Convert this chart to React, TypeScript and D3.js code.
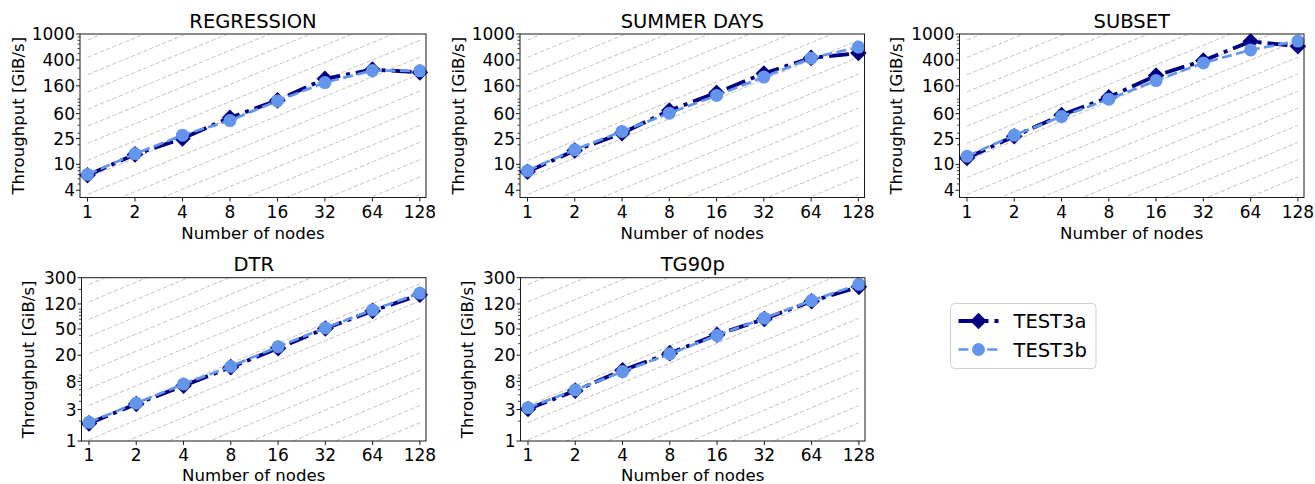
import React from 'react';
import * as d3 from 'd3';

// node counts on the x axis (log2)
const nodes = [1, 2, 4, 8, 16, 32, 64, 128];

const panelTitles = ['REGRESSION', 'SUMMER DAYS', 'SUBSET', 'DTR', 'TG90p'];
const seriesNames = ['TEST3a', 'TEST3b'];

// throughput in GiB/s
const regression3a = [6.8, 14.2, 25, 52, 96, 205, 285, 258];
const regression3b = [7.0, 14.5, 28, 47, 94, 180, 275, 272];
const summerDays3a = [7.7, 16.3, 30, 67, 125, 248, 430, 510];
const summerDays3b = [8.0, 16.8, 32, 61, 114, 218, 425, 630];
const subset3a = [12.5, 27, 57, 107, 230, 390, 770, 650];
const subset3b = [13.3, 28, 54, 100, 193, 360, 570, 780];
const dtr3a = [1.85, 3.65, 6.9, 13.2, 25.5, 51, 94, 165];
const dtr3b = [1.92, 3.75, 7.3, 13.5, 27, 52, 97, 175];
const tg90p3a = [3.05, 5.8, 11.8, 21.5, 41, 71, 132, 218];
const tg90p3b = [3.2, 5.95, 11.3, 21, 40, 73, 135, 238];

// y tick labels
const topTicks = [4, 10, 25, 60, 160, 400, 1000];
const bottomTicks = [1, 3, 8, 20, 50, 120, 300];

// constants of the grey "ideal scaling" lines y = c * nodes
const refLineFactors = [0.008, 0.0148, 0.027, 0.05, 0.092, 0.17, 0.31, 0.57, 1.04, 1.9,
  3.45, 6.25, 11.5, 21, 38.5, 70, 129, 237, 437, 808];

const NAVY = '#000080';
const LIGHT = '#6495ED';
const FONT = 'DejaVu Sans, sans-serif';

type PanelDef = {
  title: string;
  a: number[];
  b: number[];
  ticks: number[];
  domain: [number, number];
  left: number; top: number; w: number; h: number;
  labelOffset: number;
  xLabelOffset: number;
};

const panels: PanelDef[] = [
  { title: panelTitles[0], a: regression3a, b: regression3b, ticks: topTicks, domain: [3.1, 1000], left: 80, top: 34, w: 346, h: 163.5, labelOffset: 62, xLabelOffset: 41.5 },
  { title: panelTitles[1], a: summerDays3a, b: summerDays3b, ticks: topTicks, domain: [3.1, 1000], left: 520, top: 34, w: 344.5, h: 163.5, labelOffset: 62, xLabelOffset: 41.5 },
  { title: panelTitles[2], a: subset3a, b: subset3b, ticks: topTicks, domain: [3.1, 1000], left: 959.5, top: 34, w: 344.5, h: 163.5, labelOffset: 63, xLabelOffset: 41.5 },
  { title: panelTitles[3], a: dtr3a, b: dtr3b, ticks: bottomTicks, domain: [1, 300], left: 81.5, top: 277.7, w: 344.5, h: 163.3, labelOffset: 53, xLabelOffset: 40 },
  { title: panelTitles[4], a: tg90p3a, b: tg90p3b, ticks: bottomTicks, domain: [1, 300], left: 520.5, top: 277.7, w: 344.5, h: 163.3, labelOffset: 53, xLabelOffset: 40 },
];

const diamond = (s: number) => `M0,${-s}L${s},0L0,${s}L${-s},0Z`;

const Panel = ({ p, idx }: { p: PanelDef; idx: number }) => {
  const x = d3.scaleLog().base(2).domain([0.896, 140]).range([0, p.w]);
  const y = d3.scaleLog().domain(p.domain).range([p.h, 0]);
  const minor = y.ticks().filter(t => !p.ticks.includes(t));
  const line = d3.line<number>().x((_, i) => x(nodes[i])).y(d => y(d));
  const clipId = `clip${idx}`;
  return (
    <g transform={`translate(${p.left},${p.top})`}>
      <defs>
        <clipPath id={clipId}><rect width={p.w} height={p.h} /></clipPath>
      </defs>
      <rect width={p.w} height={p.h} fill="#fff" />
      <g clipPath={`url(#${clipId})`}>
        {refLineFactors.map((c, i) => (
          <line key={i} x1={x(1)} y1={y(c)} x2={x(128)} y2={y(c * 128)}
            stroke="#c4c4c4" strokeWidth={1} strokeDasharray="4.5,2.2" />
        ))}
      </g>
      <path d={line(p.a) || ''} fill="none" stroke={NAVY} strokeWidth={3.8}
        strokeDasharray="20,6,4,6" />
      {p.a.map((v, i) => (
        <path key={i} d={diamond(8.3)} transform={`translate(${x(nodes[i])},${y(v)})`} fill={NAVY} />
      ))}
      <path d={line(p.b) || ''} fill="none" stroke={LIGHT} strokeWidth={2.7}
        strokeDasharray="10,4.4" />
      {p.b.map((v, i) => (
        <circle key={i} cx={x(nodes[i])} cy={y(v)} r={6.5} fill={LIGHT} />
      ))}
      <rect width={p.w} height={p.h} fill="none" stroke="#1a1a1a" strokeWidth={1} />
      {/* y axis */}
      {minor.map(t => (
        <line key={'m' + t} x1={-2.5} x2={0} y1={y(t)} y2={y(t)} stroke="#1a1a1a" strokeWidth={0.8} />
      ))}
      {p.ticks.map(t => (
        <g key={t} transform={`translate(0,${y(t)})`}>
          <line x1={-4} x2={0} stroke="#1a1a1a" strokeWidth={1} />
          <text x={-5} dy="0.36em" textAnchor="end" fontSize={17}>{t}</text>
        </g>
      ))}
      {/* x axis */}
      {nodes.map(n => (
        <g key={n} transform={`translate(${x(n)},${p.h})`}>
          <line y1={0} y2={4} stroke="#1a1a1a" strokeWidth={1} />
          <text y={20} textAnchor="middle" fontSize={17}>{n}</text>
        </g>
      ))}
      <text x={p.w / 2} y={p.h + p.xLabelOffset} textAnchor="middle" fontSize={16.6}>Number of nodes</text>
      <text transform={`translate(${-p.labelOffset},${p.h / 2}) rotate(-90)`} textAnchor="middle"
        dominantBaseline="central" fontSize={16.6}>Throughput [GiB/s]</text>
      <text x={p.w / 2} y={-6.5} textAnchor="middle" fontSize={19.5}>{p.title}</text>
    </g>
  );
};

const Legend = () => (
  <g transform="translate(950.5,303.5)">
    <rect width={145.5} height={65} rx={4} fill="#fff" stroke="#d0d0d0" strokeWidth={1} />
    <g transform="translate(0,17.5)">
      <line x1={8} x2={48} stroke={NAVY} strokeWidth={3.8} strokeDasharray="20,6,4,6" />
      <path d={diamond(8.3)} transform="translate(28,0)" fill={NAVY} />
      <text x={63} dy="0.36em" fontSize={19.5}>{seriesNames[0]}</text>
    </g>
    <g transform="translate(0,46)">
      <line x1={8} x2={48} stroke={LIGHT} strokeWidth={2.7} strokeDasharray="10,4.4" />
      <circle cx={28} r={6.5} fill={LIGHT} />
      <text x={63} dy="0.36em" fontSize={19.5}>{seriesNames[1]}</text>
    </g>
  </g>
);

export default function App() {
  return (
    <svg width={1315} height={484} style={{ position: 'absolute', left: 0, top: 0, fontFamily: FONT }}>
      <rect width={1315} height={484} fill="#fff" />
      {panels.map((p, i) => <Panel key={i} p={p} idx={i} />)}
      <Legend />
    </svg>
  );
}
